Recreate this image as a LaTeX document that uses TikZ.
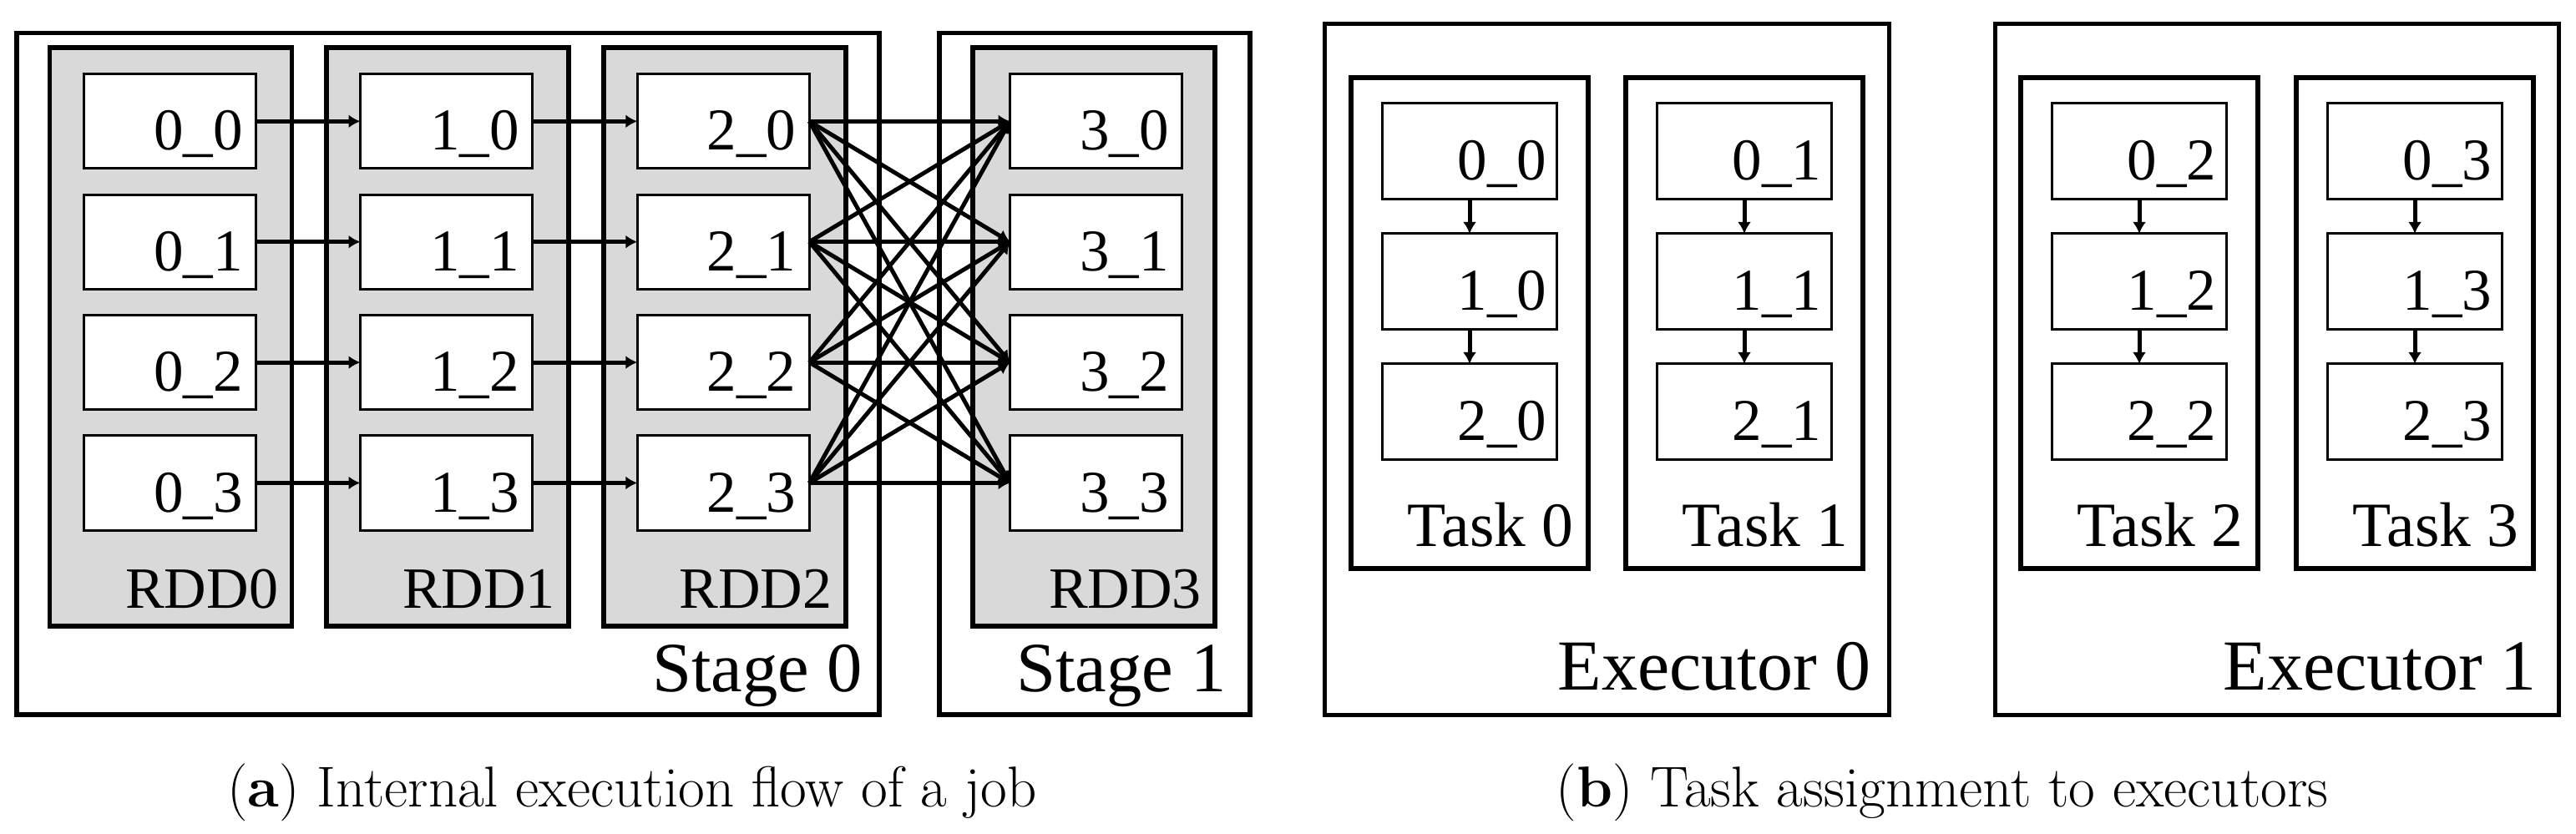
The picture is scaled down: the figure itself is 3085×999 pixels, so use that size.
\documentclass[tikz,border=0pt]{standalone}
\usepackage{fontspec}
\setmainfont{Liberation Serif}
\newfontfamily\capfont{Latin Modern Roman}
\usepackage{tikz}
\usetikzlibrary{arrows.meta}
\tikzset{
  stagebox/.style={draw, rectangle, line width=2.85pt, minimum height=408.25pt, inner sep=0pt, outer sep=0pt},
  rdd/.style={draw, rectangle, fill=black!15, line width=2.85pt, minimum width=145pt, minimum height=346.5pt, inner sep=0pt, outer sep=0pt},
  part/.style={draw, rectangle, fill=white, line width=1.5pt, minimum width=103pt, minimum height=56.65pt, inner sep=0pt, outer sep=0pt},
  execbox/.style={draw, rectangle, line width=2.5pt, minimum width=337.75pt, minimum height=413.85pt, inner sep=0pt, outer sep=0pt},
  task/.style={draw, rectangle, line width=2.85pt, minimum width=142.2pt, minimum height=294.1pt, inner sep=0pt, outer sep=0pt},
  tpart/.style={draw, rectangle, line width=1.5pt, minimum width=104.5pt, minimum height=57.25pt, inner sep=0pt, outer sep=0pt},
  partlabel/.style={anchor=base east, inner sep=0pt, font=\rmfamily\fontsize{35.5pt}{40pt}\selectfont},
  rddlabel/.style={anchor=base east, inner sep=0pt, font=\rmfamily\fontsize{35pt}{40pt}\selectfont},
  stagelabel/.style={anchor=base east, inner sep=0pt, font=\rmfamily\fontsize{42.3pt}{48pt}\selectfont},
  tasklabel/.style={anchor=base east, inner sep=0pt, font=\rmfamily\fontsize{37.75pt}{44pt}\selectfont},
  execlabel/.style={anchor=base east, inner sep=0pt, font=\rmfamily\fontsize{43pt}{48pt}\selectfont},
  caption/.style={anchor=base, inner sep=0pt, font=\capfont\fontsize{34.5pt}{40pt}\selectfont},
  flow/.style={-{Latex[length=7pt, width=8pt]}, line width=2.5pt}
}
\begin{document}
\begin{tikzpicture}[x=0.5pt, y=-0.5pt]
  \useasboundingbox (0,0) rectangle (3085,999);
  \node [stagebox, minimum width=516.5pt] (stage0) at (536.5,447.75) {};
  \node [stagebox, minimum width=186pt] (stage1) at (1311,447.75) {};
  \node [stagelabel] (stagelab0) at ([xshift=-10pt, yshift=14pt]stage0.south east) {Stage 0};
  \node [stagelabel] (stagelab1) at ([xshift=-14pt, yshift=14pt]stage1.south east) {Stage 1};
  \foreach \r/\cx in {0/204.5, 1/536.3, 2/867.8, 3/1310.3} {
    \node [rdd] (rdd\r) at (\cx,403.5) {};
    \node [rddlabel] (rddlab\r) at ([xshift=-8pt, yshift=11pt]rdd\r.south east) {RDD\r};
  }
  \foreach \r/\cx in {0/203.5, 1/534.5, 2/866.3, 3/1312.5} {
    \foreach \i in {0,...,3} {
      \node [part] (p\r\i) at (\cx,145.3+144.4*\i) {};
      \node [partlabel] (plab\r\i) at ([xshift=-7.8pt, yshift=11pt]p\r\i.south east) {\r\_\i};
    }
  }
  \foreach \i in {0,...,3} {
    \draw [flow] (p0\i) -- (p1\i);
    \draw [flow] (p1\i) -- (p2\i);
    \foreach \j in {0,...,3} {
      \draw [flow] (p2\i.east) -- (p3\j.west);
    }
  }
  \node [execbox] (exec0) at (1924.25,442.15) {};
  \node [execbox] (exec1) at (2727,442.15) {};
  \node [execlabel] (execlab0) at ([xshift=-10.5pt, yshift=15pt]exec0.south east) {Executor 0};
  \node [execlabel] (execlab1) at ([xshift=-13.5pt, yshift=15pt]exec1.south east) {Executor 1};
  \foreach \t/\cx in {0/1760, 1/2089, 2/2562, 3/2892} {
    \node [task] (task\t) at (\cx,386.9) {};
    \node [tasklabel] (tasklab\t) at ([xshift=-9pt, yshift=13.5pt]task\t.south east) {Task \t};
    \foreach \k in {0,1,2} {
      \node [tpart] (q\t\k) at (\cx,181.2+156*\k) {};
      \node [partlabel] (qlab\t\k) at ([xshift=-6pt, yshift=11.25pt]q\t\k.south east) {\k\_\t};
    }
    \draw [flow] (q\t0) -- (q\t1);
    \draw [flow] (q\t1) -- (q\t2);
  }
  \node [caption] (capa) at (757,966) {(\textbf{a}) Internal execution flow of a job};
  \node [caption] (capb) at (2326,966) {(\textbf{b}) Task assignment to executors};
\end{tikzpicture}
\end{document}
